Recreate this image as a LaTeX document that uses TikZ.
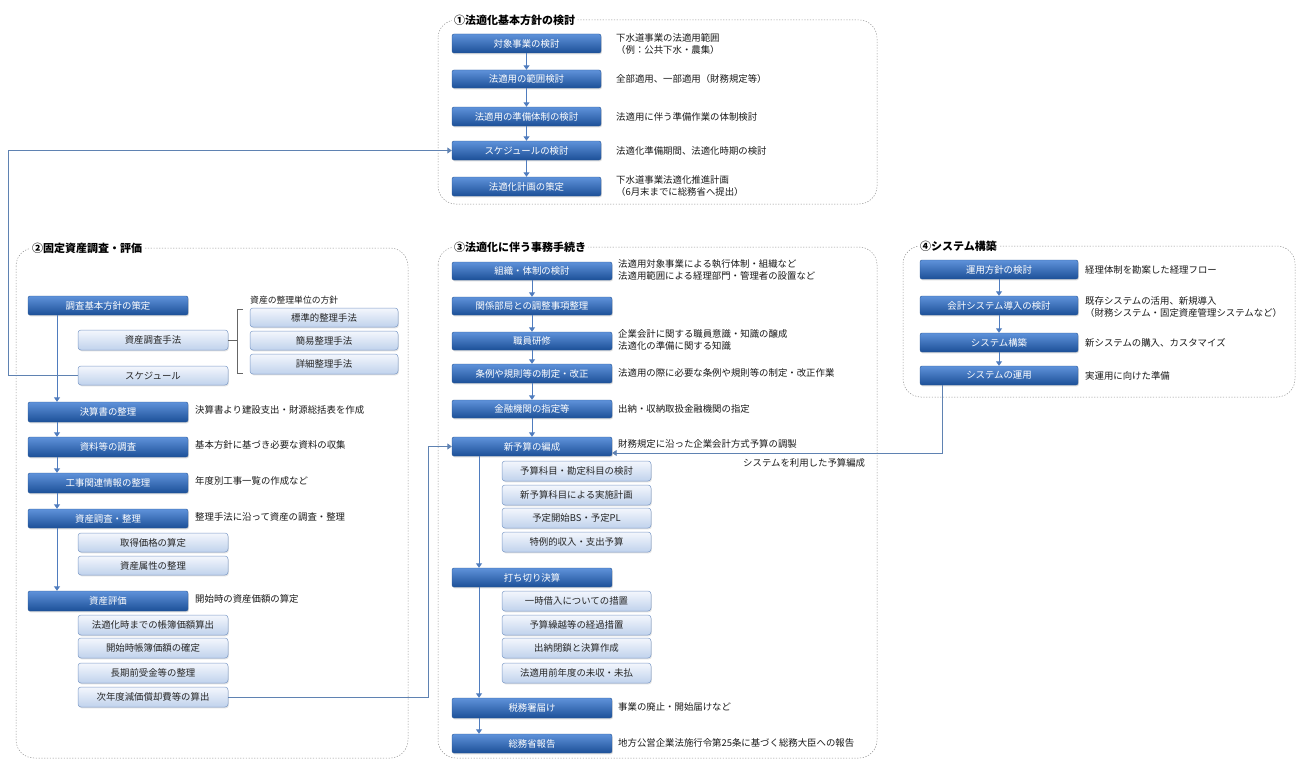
\documentclass[tikz,border=0pt]{standalone}
\usepackage{fontspec}
\setmainfont{Noto Sans CJK JP}
\usetikzlibrary{arrows.meta,shadows}
\definecolor{dbtop}{RGB}{95,146,218}
\definecolor{dbbot}{RGB}{28,80,152}
\definecolor{dbborder}{RGB}{38,86,150}
\definecolor{lbtop}{RGB}{244,247,253}
\definecolor{lbbot}{RGB}{192,210,236}
\definecolor{lbborder}{RGB}{125,155,200}
\definecolor{arrowblue}{RGB}{79,124,190}
\definecolor{connblue}{RGB}{95,130,178}
\definecolor{framegray}{RGB}{140,140,140}
\tikzset{
  darkbox/.style={rectangle, rounded corners=2pt, top color=dbtop, bottom color=dbbot,
    draw=dbborder, line width=0.4pt, text=white, inner sep=0pt,
    font=\fontsize{9.4}{10}\selectfont,
    drop shadow={opacity=0.28, shadow xshift=0.8pt, shadow yshift=-1.3pt}},
  lightbox/.style={rectangle, rounded corners=3pt, top color=lbtop, bottom color=lbbot,
    draw=lbborder, line width=0.5pt, text=black!85, inner sep=0pt,
    font=\fontsize{9.4}{10}\selectfont,
    drop shadow={opacity=0.22, shadow xshift=0.8pt, shadow yshift=-1.3pt}},
  frame/.style={draw=framegray, line width=0.5pt, dash pattern=on 1.2pt off 1.6pt, rounded corners=18pt},
  sectitle/.style={anchor=west, fill=white, inner sep=2pt, font=\fontsize{11}{12}\selectfont\bfseries},
  desc/.style={anchor=west, inner sep=0pt, align=left, text=black!90, font=\fontsize{9.4}{12.5}\selectfont},
  desc2/.style={anchor=north west, inner sep=0pt, align=left, text=black!90, font=\fontsize{9.4}{12.5}\selectfont},
  smalllabel/.style={anchor=west, inner sep=0pt, text=black!90, font=\fontsize{8.8}{10}\selectfont},
  flow/.style={draw=arrowblue, line width=1pt, -{Triangle[width=6pt,length=4.5pt]}},
  conn/.style={draw=connblue, line width=0.9pt},
  connarrow/.style={draw=connblue, line width=0.9pt, -{Triangle[width=6pt,length=4.5pt]}},
  brack/.style={draw=black!60, line width=0.5pt}
}
\newcommand\mybox[7]{\node[#2, minimum width={(#4-#3)*1pt}, minimum height={(#6-#5)*1pt}] (#1) at ({(#3+#4)/2},{(#5+#6)/2}) {#7};}
\begin{document}
\begin{tikzpicture}[x=1pt,y=-1pt]
\useasboundingbox (0,0) rectangle (1301,760);
% frames
\draw[frame] (438,20) rectangle (877,204);
\draw[frame] (16,248) rectangle (408,758);
\draw[frame] (438,247) rectangle (877,758);
\draw[frame] (903,246) rectangle (1295,397);
\node[sectitle] (t1) at (452,20) {①法適化基本方針の検討};
\node[sectitle] (t2) at (30,248) {②固定資産調査・評価};
\node[sectitle] (t3) at (452,247) {③法適化に伴う事務手続き};
\node[sectitle] (t4) at (918,246) {④システム構築};

% section 1
\mybox{a1}{darkbox}{452}{601}{34}{53}{対象事業の検討}
\mybox{a2}{darkbox}{452}{601}{70}{88}{法適用の範囲検討}
\mybox{a3}{darkbox}{452}{601}{107}{126}{法適用の準備体制の検討}
\mybox{a4}{darkbox}{452}{601}{141}{160}{スケジュールの検討}
\mybox{a5}{darkbox}{452}{601}{177}{196}{法適化計画の策定}
\node[desc2] (da1) at (616,33) {下水道事業の法適用範囲\\（例：公共下水・農集）};
\node[desc] (da2) at (616,79) {全部適用、一部適用（財務規定等）};
\node[desc] (da3) at (616,116.5) {法適用に伴う準備作業の体制検討};
\node[desc] (da4) at (616,150.5) {法適化準備期間、法適化時期の検討};
\node[desc2] (da5) at (616,175) {下水道事業法適化推進計画\\（6月末までに総務省へ提出）};
\draw[flow] (a1) -- (a2);
\draw[flow] (a2) -- (a3);
\draw[flow] (a3) -- (a4);
\draw[flow] (a4) -- (a5);

% section 2
\coordinate (xL) at (57,0);
\coordinate (lx) at (8,0);
\mybox{b1}{darkbox}{28}{188}{296}{315}{調査基本方針の策定}
\mybox{b2}{lightbox}{78}{228}{330}{350}{資産調査手法}
\mybox{b3}{lightbox}{78}{228}{366}{385}{スケジュール}
\node[smalllabel] (lbl) at (250,300) {資産の整理単位の方針};
\mybox{b4}{lightbox}{250}{398}{308}{327}{標準的整理手法}
\mybox{b5}{lightbox}{250}{398}{331}{350}{簡易整理手法}
\mybox{b6}{lightbox}{250}{398}{354}{374}{詳細整理手法}
\coordinate (brt) at (237,309);
\coordinate (brb) at (237,373);
\draw[brack] (243,309) -- (brt) -- (brb) -- (243,373);
\draw[brack] (b2.east) -- (b2.east -| brt);
\mybox{b7}{darkbox}{28}{188}{402}{422}{決算書の整理}
\mybox{b8}{darkbox}{28}{188}{437}{457}{資料等の調査}
\mybox{b9}{darkbox}{28}{188}{473}{493}{工事関連情報の整理}
\mybox{b10}{darkbox}{28}{188}{509}{528}{資産調査・整理}
\mybox{b11}{lightbox}{78}{228}{533}{552}{取得価格の算定}
\mybox{b12}{lightbox}{78}{228}{556}{575}{資産属性の整理}
\mybox{b13}{darkbox}{28}{188}{591}{611}{資産評価}
\mybox{b14}{lightbox}{78}{228}{615}{635}{法適化時までの帳簿価額算出}
\mybox{b15}{lightbox}{78}{228}{638}{658}{開始時帳簿価額の確定}
\mybox{b16}{lightbox}{78}{228}{663}{683}{長期前受金等の整理}
\mybox{b17}{lightbox}{78}{228}{687}{707}{次年度減価償却費等の算出}
\node[desc] (db7) at (195,410) {決算書より建設支出・財源総括表を作成};
\node[desc] (db8) at (195,445) {基本方針に基づき必要な資料の収集};
\node[desc] (db9) at (195,481) {年度別工事一覧の作成など};
\node[desc] (db10) at (195,517) {整理手法に沿って資産の調査・整理};
\node[desc] (db13) at (195,599) {開始時の資産価額の算定};
\draw[flow] (b1.south -| xL) -- (b7.north -| xL);
\draw[flow] (b7.south -| xL) -- (b8.north -| xL);
\draw[flow] (b8.south -| xL) -- (b9.north -| xL);
\draw[flow] (b9.south -| xL) -- (b10.north -| xL);
\draw[flow] (b10.south -| xL) -- (b13.north -| xL);
\draw[connarrow] (b3.west) -- (b3.west -| lx) |- (a4.west);

% section 3
\coordinate (xM) at (479,0);
\coordinate (mx) at (428,0);
\mybox{c1}{darkbox}{452}{612}{262}{280}{組織・体制の検討}
\mybox{c2}{darkbox}{452}{612}{297}{315}{関係部局との調整事項整理}
\mybox{c3}{darkbox}{452}{612}{332}{350}{職員研修}
\mybox{c4}{darkbox}{452}{612}{364}{383}{条例や規則等の制定・改正}
\mybox{c5}{darkbox}{452}{612}{400}{418}{金融機関の指定等}
\mybox{c6}{darkbox}{452}{612}{437}{456}{新予算の編成}
\mybox{c7}{lightbox}{502}{651}{461}{481}{予算科目・勘定科目の検討}
\mybox{c8}{lightbox}{502}{651}{485}{505}{新予算科目による実施計画}
\mybox{c9}{lightbox}{502}{651}{508}{528}{予定開始BS・予定PL}
\mybox{c10}{lightbox}{502}{651}{532}{552}{特例的収入・支出予算}
\mybox{c11}{darkbox}{452}{612}{568}{587}{打ち切り決算}
\mybox{c12}{lightbox}{502}{651}{591}{611}{一時借入についての措置}
\mybox{c13}{lightbox}{502}{651}{615}{635}{予算繰越等の経過措置}
\mybox{c14}{lightbox}{502}{651}{638}{658}{出納閉鎖と決算作成}
\mybox{c15}{lightbox}{502}{651}{663}{683}{法適用前年度の未収・未払}
\mybox{c16}{darkbox}{452}{612}{698}{718}{税務署届け}
\mybox{c17}{darkbox}{452}{612}{734}{753}{総務省報告}
\node[desc2] (dc1) at (618,259) {法適用対象事業による執行体制・組織など\\法適用範囲による経理部門・管理者の設置など};
\node[desc2] (dc3) at (618,329) {企業会計に関する職員意識・知識の醸成\\法適化の準備に関する知識};
\node[desc] (dc4) at (618,373) {法適用の際に必要な条例や規則等の制定・改正作業};
\node[desc] (dc5) at (618,409) {出納・収納取扱金融機関の指定};
\node[desc] (dc6) at (618,444) {財務規定に沿った企業会計方式予算の調製};
\node[desc] (sysl) at (743,463) {システムを利用した予算編成};
\node[desc] (dc16) at (618,707) {事業の廃止・開始届けなど};
\node[desc] (dc17) at (618,743) {地方公営企業法施行令第25条に基づく総務大臣への報告};
\draw[flow] (c1) -- (c2);
\draw[flow] (c2) -- (c3);
\draw[flow] (c3) -- (c4);
\draw[flow] (c4) -- (c5);
\draw[flow] (c5) -- (c6);
\draw[flow] (c6.south -| xM) -- (c11.north -| xM);
\draw[flow] (c11.south -| xM) -- (c16.north -| xM);
\draw[flow] (c16.south -| xM) -- (c17.north -| xM);
\draw[connarrow] (b17.east) -- (b17.east -| mx) |- (c6.west);

% section 4
\mybox{d1}{darkbox}{920}{1078}{260}{279}{運用方針の検討}
\mybox{d2}{darkbox}{920}{1078}{296}{315}{会計システム導入の検討}
\mybox{d3}{darkbox}{920}{1078}{333}{352}{システム構築}
\mybox{d4}{darkbox}{920}{1078}{366}{385}{システムの運用}
\node[desc] (dd1) at (1085,269.5) {経理体制を勘案した経理フロー};
\node[desc2] (dd2) at (1085,296) {既存システムの活用、新規導入\\（財務システム・固定資産管理システムなど）};
\node[desc] (dd3) at (1085,342.5) {新システムの購入、カスタマイズ};
\node[desc] (dd4) at (1085,375.5) {実運用に向けた準備};
\draw[flow] (d1) -- (d2);
\draw[flow] (d2) -- (d3);
\draw[flow] (d3) -- (d4);
\coordinate (sx) at (942,453);
\draw[connarrow] (d4.south -| sx) -- (sx) -- (sx -| c6.east);
\end{tikzpicture}
\end{document}
